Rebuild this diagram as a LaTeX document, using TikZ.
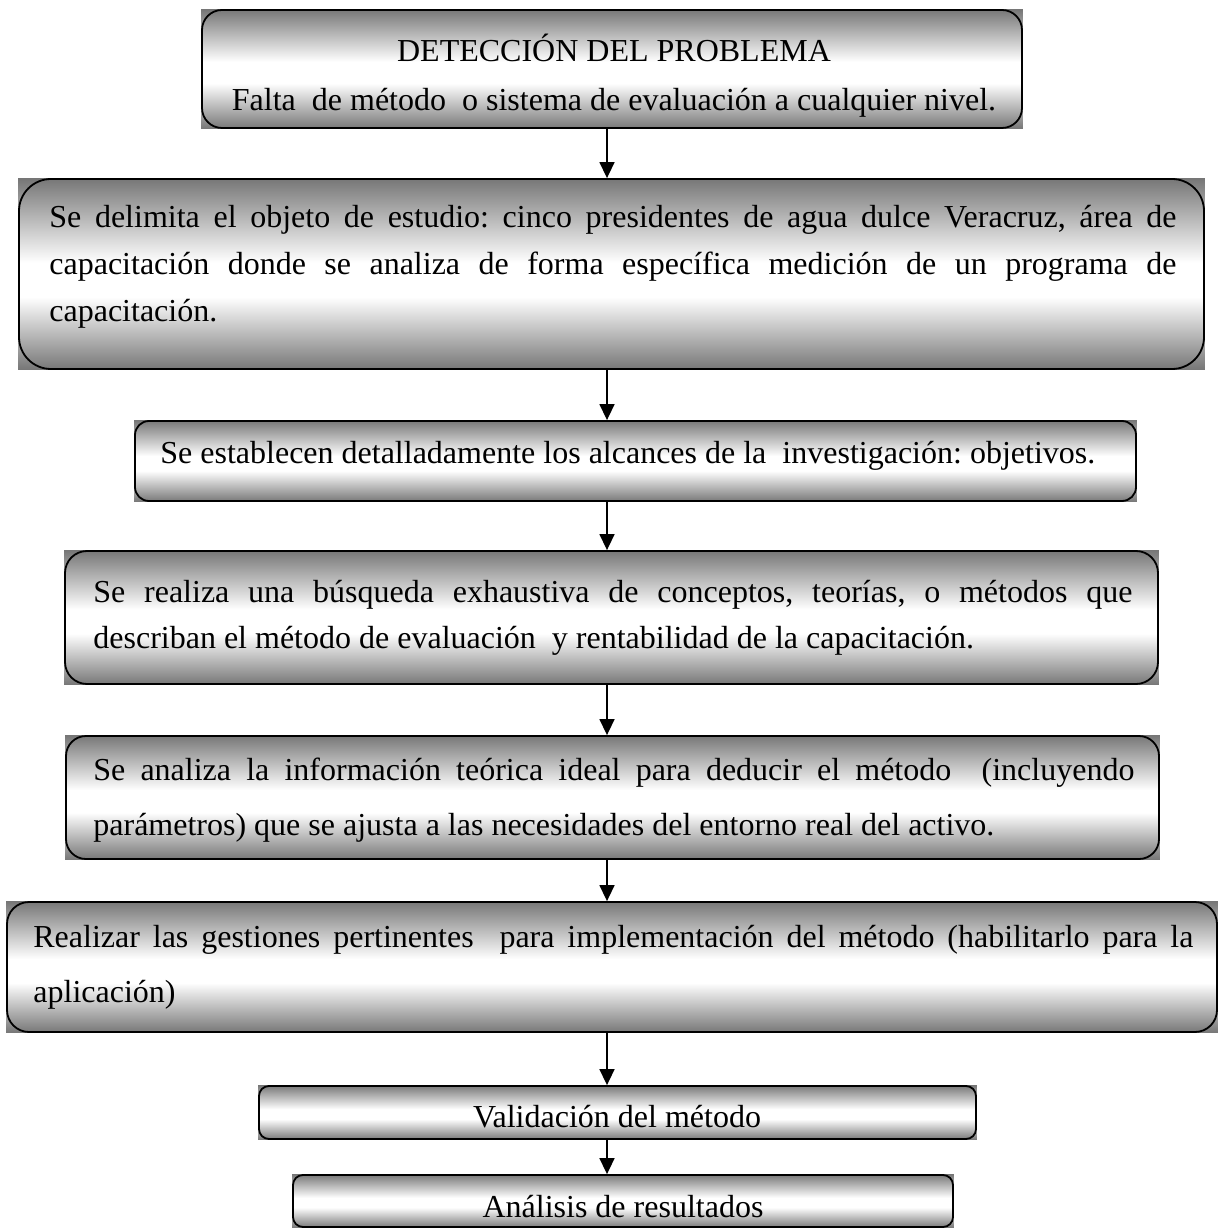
\documentclass[tikz,border=0pt]{standalone}
\usepackage{fontspec}
\setmainfont{Liberation Serif}
\usetikzlibrary{fit,backgrounds,arrows.meta}
\definecolor{edgegray}{RGB}{118,118,118}
\pgfdeclareverticalshading{boxsh}{100bp}{color(0bp)=(edgegray); color(25bp)=(edgegray); color(44bp)=(white); color(53bp)=(white); color(75bp)=(edgegray); color(100bp)=(edgegray)}
\newcommand\jl[1]{\makebox[\linewidth][s]{#1}\par}
\newcommand\ptext[3]{\parbox[t]{#1}{\frenchspacing\fontsize{16pt}{#2}\selectfont #3}}
\frenchspacing
\begin{document}
\begin{tikzpicture}[x=0.5pt,y=-0.5pt,
  box/.style={draw=black, line width=0.9pt, inner sep=0pt},
  txt/.style={inner sep=0pt, font=\fontsize{16pt}{23.5pt}\selectfont\frenchspacing},
  arr/.style={line width=0.75pt, -{Triangle[width=7.5pt,length=8pt]}}]
\useasboundingbox (0,0) rectangle (1219,1229);

% boxes
\node[box, rounded corners=10pt, fit={(202,10) (1022,128)}] (b1) {};
\node[box, rounded corners=16pt, fit={(19,179) (1204,369)}] (b2) {};
\node[box, rounded corners=7pt, fit={(135,421) (1136,501)}] (b3) {};
\node[box, rounded corners=11pt, fit={(65,551) (1158,684)}] (b4) {};
\node[box, rounded corners=10pt, fit={(66,736) (1159,859)}] (b5) {};
\node[box, rounded corners=11pt, fit={(7,902) (1217,1032)}] (b6) {};
\node[box, rounded corners=5pt, fit={(259,1086) (976,1139)}] (b7) {};
\node[box, rounded corners=5pt, fit={(293,1175) (953,1227)}] (b8) {};

% shading behind boxes
\begin{scope}[on background layer]
\foreach \b in {b1,b2,b3,b4,b5,b6,b7,b8}
  \shade[shading=boxsh] (\b.south west) rectangle (\b.north east);
\end{scope}

% texts
\node[txt, anchor=base] (t1) at (614,62) {\ptext{420pt}{24.5pt}{\centering DETECCIÓN DEL PROBLEMA\par Falta~ de método~ o sistema de evaluación a cualquier nivel.\par}};
\node[txt, anchor=base west] (t2) at (49,228) {\ptext{563.5pt}{23.5pt}{\jl{Se delimita el objeto de estudio: cinco presidentes de agua dulce Veracruz, área de}\jl{capacitación donde se analiza de forma específica medición de un programa de}capacitación.}};
\node[txt, anchor=base west] (t3) at (160,463) {Se establecen detalladamente los alcances de la~ investigación: objetivos.};
\node[txt, anchor=base west] (t4) at (93,602) {\ptext{519.5pt}{23pt}{\jl{Se realiza una búsqueda exhaustiva de conceptos, teorías, o métodos que}describan el método de evaluación~ y rentabilidad de la capacitación.}};
\node[txt, anchor=base west] (t5) at (93,780) {\ptext{520.5pt}{27.5pt}{\jl{Se analiza la información teórica ideal para deducir el método~ (incluyendo}parámetros) que se ajusta a las necesidades del entorno real del activo.}};
\node[txt, anchor=base west] (t6) at (33,947) {\ptext{580pt}{27.5pt}{\jl{Realizar las gestiones pertinentes~ para implementación del método (habilitarlo para la}aplicación)}};
\node[txt, anchor=base] (t7) at (617,1127) {Validación del método};
\node[txt, anchor=base] (t8) at (623,1217) {Análisis de resultados};

% connectors
\coordinate (ax) at (607,0);
\draw[arr] (b1.south -| ax) -- (b2.north -| ax);
\draw[arr] (b2.south -| ax) -- (b3.north -| ax);
\draw[arr] (b3.south -| ax) -- (b4.north -| ax);
\draw[arr] (b4.south -| ax) -- (b5.north -| ax);
\draw[arr] (b5.south -| ax) -- (b6.north -| ax);
\draw[arr] (b6.south -| ax) -- (b7.north -| ax);
\draw[arr] (b7.south -| ax) -- (b8.north -| ax);
\end{tikzpicture}
\end{document}
